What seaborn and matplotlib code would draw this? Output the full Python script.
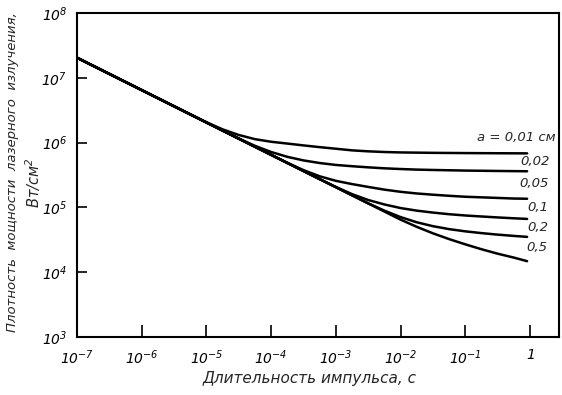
import numpy as np
import pandas as pd
import matplotlib
matplotlib.use("Agg")
import matplotlib.pyplot as plt
import seaborn as sns
from matplotlib.ticker import FixedLocator, FixedFormatter, NullLocator

# ---- data (pulse duration, s ; power density, W/cm^2) ----
curve_names = ["0,01", "0,02", "0,05", "0,1", "0,2", "0,5"]

t_001 = [1e-7, 5.62e-6, 1e-5, 1.78e-5, 3.16e-5, 5.62e-5, 1e-4, 1.78e-4, 3.16e-4,
         5.62e-4, 1e-3, 1.78e-3, 3.16e-3, 5.62e-3, 1e-2, 3.16e-2, 0.1, 0.316, 0.9]
p_001 = [2.04e7, 2.73e6, 2.06e6, 1.60e6, 1.31e6, 1.13e6, 1.03e6, 9.66e5, 9.05e5,
         8.51e5, 8.04e5, 7.59e5, 7.33e5, 7.16e5, 7.05e5, 6.95e5, 6.89e5, 6.85e5, 6.82e5]

t_002 = [1e-7, 1.78e-5, 3.16e-5, 5.62e-5, 1e-4, 1.78e-4, 3.16e-4, 5.62e-4, 1e-3,
         1.78e-3, 3.16e-3, 5.62e-3, 1e-2, 1.78e-2, 3.16e-2, 0.1, 0.316, 0.9]
p_002 = [2.04e7, 1.535e6, 1.156e6, 8.91e5, 7.16e5, 6.03e5, 5.31e5, 4.84e5, 4.52e5,
         4.32e5, 4.15e5, 4.01e5, 3.91e5, 3.83e5, 3.78e5, 3.70e5, 3.65e5, 3.61e5]

t_005 = [1e-7, 1e-4, 1.78e-4, 3.16e-4, 5.62e-4, 1e-3, 1.78e-3, 3.16e-3, 5.62e-3,
         1e-2, 1.78e-2, 3.16e-2, 5.62e-2, 0.1, 0.178, 0.316, 0.562, 0.9]
p_005 = [2.04e7, 6.47e5, 4.88e5, 3.76e5, 3.02e5, 2.57e5, 2.29e5, 2.07e5, 1.88e5,
         1.74e5, 1.64e5, 1.57e5, 1.51e5, 1.46e5, 1.43e5, 1.40e5, 1.37e5, 1.36e5]

t_01 = [1e-7, 5.62e-4, 1e-3, 1.78e-3, 3.16e-3, 5.62e-3, 1e-2, 1.78e-2, 3.16e-2,
        5.62e-2, 0.1, 0.178, 0.316, 0.562, 0.9]
p_01 = [2.04e7, 2.73e5, 2.07e5, 1.60e5, 1.30e5, 1.11e5, 9.77e4, 8.91e4, 8.32e4,
        7.85e4, 7.50e4, 7.24e4, 7.00e4, 6.79e4, 6.64e4]

t_02 = [1e-7, 1.78e-3, 3.16e-3, 5.62e-3, 1e-2, 1.78e-2, 3.16e-2, 5.62e-2, 0.1,
        0.178, 0.316, 0.562, 0.9]
p_02 = [2.04e7, 1.535e5, 1.156e5, 8.91e4, 7.08e4, 5.89e4, 5.13e4, 4.62e4, 4.27e4,
        4.01e4, 3.80e4, 3.63e4, 3.51e4]

t_05 = [1e-7, 1e-2, 1.78e-2, 3.16e-2, 5.62e-2, 0.1, 0.178, 0.316, 0.562, 0.9]
p_05 = [2.04e7, 6.47e4, 5.01e4, 3.98e4, 3.24e4, 2.69e4, 2.26e4, 1.93e4, 1.68e4, 1.48e4]

x_ticks = [1e-7, 1e-6, 1e-5, 1e-4, 1e-3, 1e-2, 1e-1, 1]
x_tick_labels = [r"$10^{-7}$", r"$10^{-6}$", r"$10^{-5}$", r"$10^{-4}$",
                 r"$10^{-3}$", r"$10^{-2}$", r"$10^{-1}$", r"$1$"]
y_ticks = [1e3, 1e4, 1e5, 1e6, 1e7, 1e8]
y_tick_labels = [r"$10^{3}$", r"$10^{4}$", r"$10^{5}$", r"$10^{6}$",
                 r"$10^{7}$", r"$10^{8}$"]

label_texts = ["a = 0,01 см", "0,02", "0,05", "0,1", "0,2", "0,5"]

# ---- build table ----
frames = []
for name, t, p in zip(curve_names,
                      [t_001, t_002, t_005, t_01, t_02, t_05],
                      [p_001, p_002, p_005, p_01, p_02, p_05]):
    frames.append(pd.DataFrame({"t": t, "p": p, "a": name}))
df = pd.concat(frames, ignore_index=True)

sns.set_style("ticks")
plt.rcParams["font.family"] = ["DejaVu Sans"]
plt.rcParams["mathtext.fontset"] = "custom"
plt.rcParams["mathtext.rm"] = "DejaVu Sans:italic"
plt.rcParams["mathtext.it"] = "DejaVu Sans:italic"
plt.rcParams["mathtext.default"] = "it"

W, H = 562, 395
fig = plt.figure(figsize=(W / 100, H / 100), dpi=100)
L, R, T, B = 77, 559, 13, 337
ax = fig.add_axes([L / W, 1 - B / H, (R - L) / W, (B - T) / H])

sns.lineplot(data=df, x="t", y="p", hue="a", palette={n: "black" for n in curve_names},
             estimator=None, sort=False, legend=False, linewidth=1.8, ax=ax)

ax.set_xscale("log")
ax.set_yscale("log")
ax.set_xlim(1e-7, 2.8)
ax.set_ylim(1e3, 1e8)

ax.xaxis.set_major_locator(FixedLocator(x_ticks))
ax.xaxis.set_major_formatter(FixedFormatter(x_tick_labels))
ax.yaxis.set_major_locator(FixedLocator(y_ticks))
ax.yaxis.set_major_formatter(FixedFormatter(y_tick_labels))
ax.xaxis.set_minor_locator(NullLocator())
ax.yaxis.set_minor_locator(NullLocator())
ax.tick_params(axis="x", direction="in", length=9, width=1.2, labelsize=10, pad=8,
               colors="black")
ax.tick_params(axis="y", direction="in", length=7, width=1.2, labelsize=10, pad=7,
               colors="black")

for s in ax.spines.values():
    s.set_visible(True)
    s.set_linewidth(1.5)
    s.set_color("black")

ax.set_xlabel("")
ax.set_ylabel("")

fig.text(310 / W, 1 - 378 / H, "Длительность импульса, с", ha="center", va="center",
         fontsize=11, fontstyle="italic")
fig.text(13 / W, 1 - 172 / H, "Плотность  мощности  лазерного  излучения,",
         rotation=90, ha="center", va="center", fontsize=9.5, fontstyle="italic")
fig.text(33 / W, 1 - 183 / H, r"Вт/см$^{2}$", rotation=90, ha="center", va="center",
         fontsize=10.5, fontstyle="italic")

label_pos = [(477, 138), (520, 162), (519, 183), (527, 208), (527, 228), (526, 248)]
for txt, (px, py) in zip(label_texts, label_pos):
    fig.text(px / W, 1 - py / H, txt, ha="left", va="center", fontsize=9.5,
             fontstyle="italic")

fig.savefig("out.png", dpi=100)
